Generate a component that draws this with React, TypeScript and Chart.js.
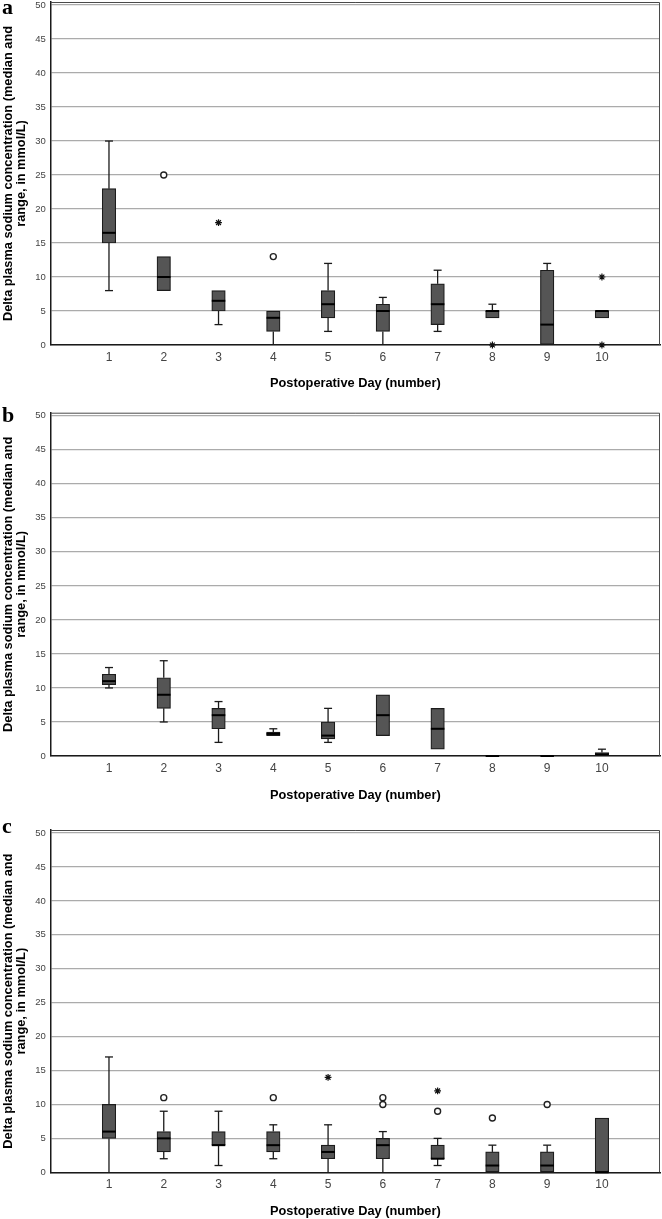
import React, { useEffect, useRef } from 'react';
import { Chart, registerables } from 'chart.js';

Chart.register(...registerables);

// Postoperative days on the x axis
const DAYS = [1, 2, 3, 4, 5, 6, 7, 8, 9, 10];
const Y_TICKS = [0, 5, 10, 15, 20, 25, 30, 35, 40, 45, 50];
const Y_TITLE = ['Delta plasma sodium concentration (median and', 'range, in mmol/L)'];
const X_TITLE = 'Postoperative Day (number)';

// Panel a: box-plot statistics per day
const aMin = [8, 8, 3, 0, 2, 0, 2, 4, 0, 4];
const aQ1 = [15, 8, 5, 2, 4, 2, 3, 4, 0, 4];
const aMed = [16.5, 10, 6.5, 4, 6, 5, 6, 5, 3, 5];
const aQ3 = [23, 13, 8, 5, 8, 6, 9, 5, 11, 5];
const aMax = [30, 13, 8, 5, 12, 7, 11, 6, 12, 5];
const aCircles: [number, number][] = [[2, 25], [4, 13]];
const aStars: [number, number][] = [[3, 18], [8, 0], [10, 10], [10, 0]];

// Panel b
const bMin = [10, 5, 2, 3, 2, 3, 1, 0, 0, 0];
const bQ1 = [10.5, 7, 4, 3, 2.5, 3, 1, 0, 0, 0];
const bMed = [11, 9, 6, 3.25, 3, 6, 4, 0, 0, 0.25];
const bQ3 = [12, 11.5, 7, 3.5, 5, 9, 7, 0, 0, 0.5];
const bMax = [13, 14, 8, 4, 7, 9, 7, 0, 0, 1];
const bCircles: [number, number][] = [];
const bStars: [number, number][] = [];

// Panel c
const cMin = [0, 2, 1, 2, 0, 0, 1, 0, 0, 0];
const cQ1 = [5, 3, 4, 3, 2, 2, 2, 0, 0, 0];
const cMed = [6, 5, 4, 4, 3, 4, 2, 1, 1, 0];
const cQ3 = [10, 6, 6, 6, 4, 5, 4, 3, 3, 8];
const cMax = [17, 9, 9, 7, 7, 6, 5, 4, 4, 8];
const cCircles: [number, number][] = [[2, 11], [4, 11], [6, 11], [6, 10], [7, 9], [8, 8], [9, 10]];
const cStars: [number, number][] = [[5, 14], [7, 12]];

const SANS = '"Liberation Sans", Arial, sans-serif';
const SERIF = '"Liberation Serif", "Times New Roman", serif';
const BOX_W = 13.5;

type PanelData = {
  letter: string;
  min: number[];
  q1: number[];
  med: number[];
  q3: number[];
  max: number[];
  circles: [number, number][];
  stars: [number, number][];
};

type PanelLayout = {
  top: number;
  height: number;
  padTop: number;
  xAxisH: number;
  titlePad: number;
  letterY: number;
};

const PANELS: { data: PanelData; layout: PanelLayout }[] = [
  {
    data: { letter: 'a', min: aMin, q1: aQ1, med: aMed, q3: aQ3, max: aMax, circles: aCircles, stars: aStars },
    layout: { top: 0, height: 398, padTop: 2, xAxisH: 53, titlePad: 7.3, letterY: 13.5 },
  },
  {
    data: { letter: 'b', min: bMin, q1: bQ1, med: bMed, q3: bQ3, max: bMax, circles: bCircles, stars: bStars },
    layout: { top: 400, height: 409, padTop: 12.7, xAxisH: 53, titlePad: 6.3, letterY: 21.7 },
  },
  {
    data: { letter: 'c', min: cMin, q1: cQ1, med: cMed, q3: cQ3, max: cMax, circles: cCircles, stars: cStars },
    layout: { top: 812, height: 407, padTop: 18, xAxisH: 46.7, titlePad: 0.3, letterY: 21.3 },
  },
];

// Whiskers, medians, plot frame and panel letter
const boxPlotPlugin = {
  id: 'boxPlotExtras',
  beforeDatasetsDraw(chart: any, _args: any, opts: any) {
    const d: PanelData = opts.panel;
    const { ctx } = chart;
    const xs = chart.scales.x;
    const ys = chart.scales.y;
    ctx.save();
    ctx.strokeStyle = '#1a1a1a';
    ctx.lineWidth = 1.3;
    DAYS.forEach((day, i) => {
      const x = xs.getPixelForValue(day);
      const cap = 4;
      const seg = (lo: number, hi: number, capAt: number) => {
        if (hi <= lo) return;
        ctx.beginPath();
        ctx.moveTo(x, ys.getPixelForValue(lo));
        ctx.lineTo(x, ys.getPixelForValue(hi));
        ctx.stroke();
        if (capAt > 0) {
          const yc = ys.getPixelForValue(capAt);
          ctx.beginPath();
          ctx.moveTo(x - cap, yc);
          ctx.lineTo(x + cap, yc);
          ctx.stroke();
        }
      };
      seg(d.min[i], d.q1[i], d.min[i]);
      seg(d.q3[i], d.max[i], d.max[i]);
    });
    ctx.restore();
  },
  afterDatasetsDraw(chart: any, _args: any, opts: any) {
    const d: PanelData = opts.panel;
    const { ctx } = chart;
    const xs = chart.scales.x;
    const ys = chart.scales.y;
    ctx.save();
    ctx.strokeStyle = '#000';
    ctx.lineWidth = 2;
    DAYS.forEach((day, i) => {
      const x = xs.getPixelForValue(day);
      const y = ys.getPixelForValue(d.med[i]);
      ctx.beginPath();
      ctx.moveTo(x - BOX_W / 2, y);
      ctx.lineTo(x + BOX_W / 2, y);
      ctx.stroke();
    });
    ctx.restore();
  },
  afterDraw(chart: any, _args: any, opts: any) {
    const { ctx, chartArea } = chart;
    ctx.save();
    ctx.strokeStyle = '#4a4a4a';
    ctx.lineWidth = 1;
    ctx.beginPath();
    ctx.moveTo(chartArea.left, chartArea.top + 0.5);
    ctx.lineTo(chartArea.right - 0.5, chartArea.top + 0.5);
    ctx.lineTo(chartArea.right - 0.5, chartArea.bottom);
    ctx.stroke();
    ctx.fillStyle = '#000';
    ctx.font = `bold 22px ${SERIF}`;
    ctx.textBaseline = 'alphabetic';
    ctx.textAlign = 'left';
    ctx.fillText(opts.panel.letter, 2, opts.letterY);
    ctx.restore();
  },
};

function BoxPanel({ data, layout }: { data: PanelData; layout: PanelLayout }) {
  const ref = useRef<HTMLCanvasElement>(null);

  useEffect(() => {
    const points = (list: [number, number][]) => list.map(([x, y]) => ({ x, y }));
    const chart = new Chart(ref.current as HTMLCanvasElement, {
      type: 'bar',
      data: {
        datasets: [
          {
            type: 'bar',
            data: DAYS.map((day, i) => ({ x: day, y: [data.q1[i], data.q3[i]] })) as any,
            backgroundColor: '#555555',
            borderColor: '#1c1c1c',
            borderWidth: 1.2,
            borderSkipped: false,
            barThickness: BOX_W,
            grouped: false,
          } as any,
          {
            type: 'scatter',
            data: points(data.circles),
            pointStyle: 'circle',
            radius: 3,
            borderColor: '#222',
            backgroundColor: '#fff',
            borderWidth: 1.4,
            clip: false,
          } as any,
          {
            type: 'scatter',
            data: points(data.stars),
            pointStyle: 'star',
            radius: 3.4,
            borderColor: '#111',
            backgroundColor: '#111',
            borderWidth: 1.2,
            clip: false,
          } as any,
        ],
      },
      options: {
        responsive: false,
        animation: false,
        events: [],
        layout: { autoPadding: false, padding: { top: layout.padTop, right: 2, left: 0, bottom: 0 } },
        plugins: {
          legend: { display: false },
          tooltip: { enabled: false },
          boxPlotExtras: { panel: data, letterY: layout.letterY },
        } as any,
        scales: {
          x: {
            type: 'linear',
            min: -0.064,
            max: 11.06,
            offset: false,
            afterBuildTicks: (s: any) => {
              s.ticks = DAYS.map((v) => ({ value: v }));
            },
            afterFit: (s: any) => {
              s.height = layout.xAxisH;
              s.paddingLeft = 0;
              s.paddingRight = 0;
            },
            ticks: {
              padding: 5,
              color: '#444',
              font: { size: 12, family: SANS },
              autoSkip: false,
              maxRotation: 0,
            },
            grid: { display: false, drawTicks: false },
            border: { display: true, color: '#1a1a1a', width: 1.5 },
            title: {
              display: true,
              text: X_TITLE,
              color: '#000',
              font: { size: 12.8, weight: 'bold', family: SANS, lineHeight: 1.2 },
              padding: { top: 0, bottom: layout.titlePad },
            },
          },
          y: {
            type: 'linear',
            min: 0,
            max: 50.45,
            afterBuildTicks: (s: any) => {
              s.ticks = Y_TICKS.map((v) => ({ value: v }));
            },
            afterFit: (s: any) => {
              s.width = 50.7;
              s.paddingTop = 0;
              s.paddingBottom = 0;
            },
            ticks: {
              padding: 5,
              color: '#444',
              font: { size: 9.5, family: SANS },
            },
            grid: { color: '#ababab', lineWidth: 1.2, drawTicks: false },
            border: { display: true, color: '#1a1a1a', width: 1.5 },
            title: {
              display: true,
              text: Y_TITLE,
              color: '#000',
              font: { size: 12.8, weight: 'bold', family: SANS, lineHeight: 1.05 },
              padding: { top: 1.5, bottom: 0 },
            },
          },
        },
      } as any,
      plugins: [boxPlotPlugin],
    });
    return () => chart.destroy();
  }, [data, layout]);

  return (
    <div style={{ position: 'absolute', left: 0, top: layout.top, width: 662, height: layout.height }}>
      <canvas ref={ref} width={662} height={layout.height} style={{ display: 'block', width: 662, height: layout.height }} />
    </div>
  );
}

export default function App() {
  return (
    <div style={{ position: 'absolute', left: 0, top: 0, width: 662, height: 1219, background: '#fff', overflow: 'hidden' }}>
      {PANELS.map((p) => (
        <BoxPanel key={p.data.letter} data={p.data} layout={p.layout} />
      ))}
    </div>
  );
}
